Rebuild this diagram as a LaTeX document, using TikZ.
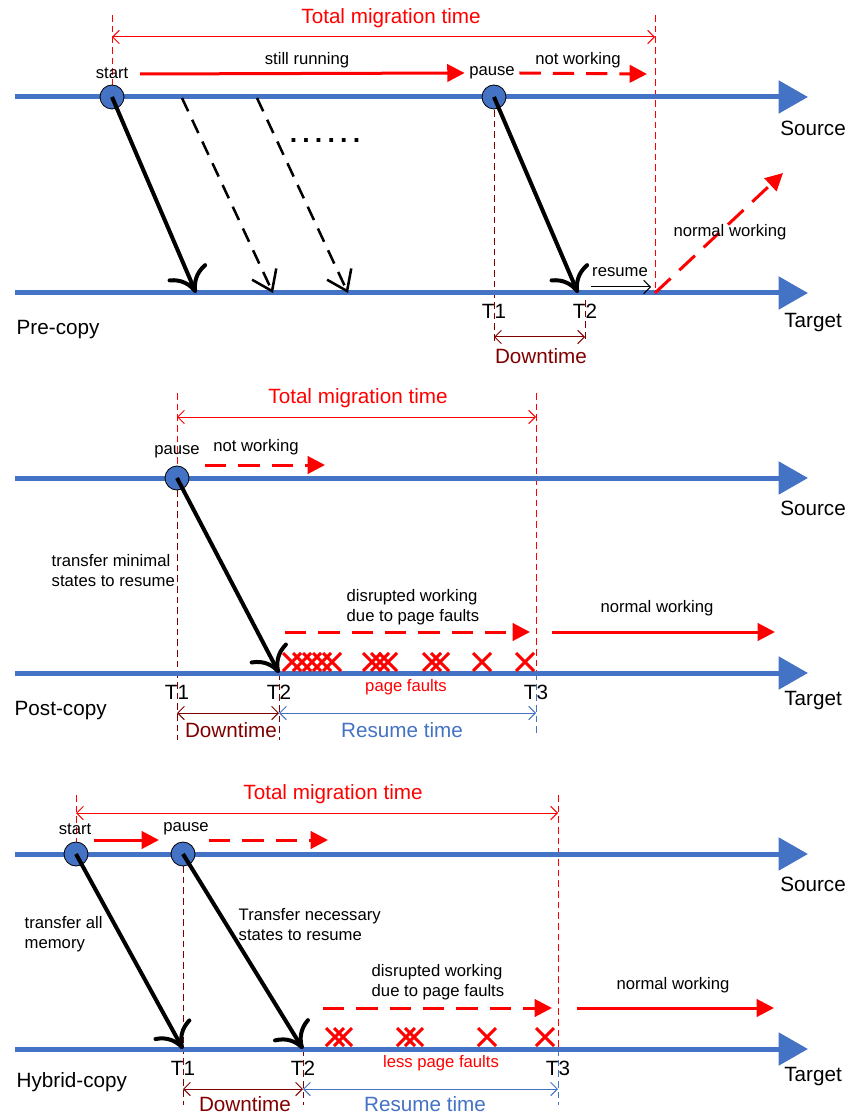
\documentclass[tikz,border=0pt]{standalone}
\usepackage{fontspec}
\setmainfont{Liberation Sans}
\usetikzlibrary{arrows.meta}
\definecolor{lineblue}{RGB}{68,114,196}
\definecolor{downred}{RGB}{128,0,0}
\newcommand{\axisfont}{\fontsize{15.5}{18}\selectfont}
\newcommand{\notefont}{\fontsize{12.5}{15}\selectfont}

\begin{document}
\begin{tikzpicture}[x=0.75pt,y=-0.75pt,
  timeline/.style={draw=lineblue,line width=3.75pt,-{Triangle[length=22pt,width=24pt]}},
  vm/.style={circle,draw=black,line width=0.6pt,fill=lineblue,minimum size=18pt,inner sep=0pt},
  transfer/.style={line width=3pt,-{Computer Modern Rightarrow[length=18pt,width=32pt]}},
  iterate/.style={line width=1.9pt,dash pattern=on 11pt off 7pt,-{Straight Barb[length=14pt,width=20pt]}},
  run/.style={red,line width=2.25pt,-{Triangle[length=13pt,width=13pt]}},
  halt/.style={run,dash pattern=on 16pt off 9pt},
  guide/.style={red,line width=0.75pt,dash pattern=on 5pt off 3pt},
  span/.style={line width=0.75pt,{Straight Barb[length=5pt,width=10pt]}-{Straight Barb[length=5pt,width=10pt]}},
  fault/.style={red,line width=2.25pt},
  big/.style={font=\axisfont},
  small/.style={font=\notefont}]
\useasboundingbox (0,0) rectangle (852,1119);

% ---------------- pre-copy
\draw[guide] (112,15) -- (112,97);
\draw[guide] (655,15) -- (655,293);
\draw[guide,downred] (494,110) -- (494,341);
\draw[guide,downred] (585,300) -- (585,341);
\draw[timeline] (15,97) -- (808,97);
\draw[timeline] (15,293) -- (808,293);
\node[vm] (s1) at (112,97) {};
\node[vm] (p1) at (494,97) {};
\coordinate (a1) at (196,293);
\coordinate (b1) at (578,293);
\draw[transfer] (s1.center) -- (a1);
\draw[transfer] (p1.center) -- (b1);
\draw[iterate] (182,98) -- (273,293);
\draw[iterate] (257,98) -- (348,293);
\node[font=\bfseries\fontsize{20}{20}\selectfont] (dots) at (325,141) {.\kern3.9pt.\kern3.9pt.\kern3.9pt.\kern3.9pt.\kern3.9pt.};

\node[big,red] (tot1) at (391,18) {Total migration time};
\draw[span,red] (112,37) -- (655,37);
\node[small] (st1) at (112,73) {start};
\node[small] (pa1) at (492,73) {pause};
\draw[run] (140,74) -- (pa1.west);
\draw[halt] (pa1.east) -- (647,74);
\node[small] at (307,60) {still running};
\node[small] at (578,60) {not working};
\node[small] (res1) at (620,272) {resume};
\draw[line width=0.75pt,-{Straight Barb[length=5pt,width=10pt]}] (591,287) -- (651,287);
\draw[halt] (655,293) -- (783,173);
\node[small] at (730,232) {normal working};
\node[big] at (494,311) {T1};
\node[big] at (585,311) {T2};
\draw[span,downred] (494,337) -- (585,337);
\node[big,downred] at (541,356) {Downtime};
\node[big] at (813,128) {Source};
\node[big] at (813,323) {Target};
\node[big,anchor=west] at (12,330) {Pre-copy};

% ---------------- post-copy
\draw[guide] (177,393) -- (177,478);
\draw[guide,downred] (177,490) -- (177,740);
\draw[guide,downred] (279,673) -- (279,740);
\draw[guide] (536,393) -- (536,673);
\draw[guide,lineblue] (536,673) -- (536,735);
\draw[timeline] (15,478) -- (808,478);
\draw[timeline] (15,673) -- (808,673);
\node[vm] (p2) at (177,478) {};
\coordinate (b2) at (279,673);
\draw[transfer] (p2.center) -- (b2);

\node[big,red] at (358,398) {Total migration time};
\draw[span,red] (177,417) -- (536,417);
\node[small] at (177,452) {pause};
\draw[halt] (205,465) -- (325,465);
\node[small] at (256,447) {not working};
\node[small,align=left,anchor=west] at (47,571) {transfer minimal\\states to resume};
\node[small,align=left,anchor=west] at (342,607) {disrupted working\\due to page faults};
\draw[halt] (285,632) -- (530,632);
\draw[run] (552,632) -- (775,632);
\node[small] at (657,608) {normal working};
\foreach \x in {292,302,312,322,332,372,380,388,432,440,482,525}
  \draw[fault] ({\x-9},653) -- ({\x+9},671) ({\x-9},671) -- ({\x+9},653);
\node[small,red] at (406,687) {page faults};
\node[big] at (177,692) {T1};
\node[big] at (279,692) {T2};
\node[big] at (536,692) {T3};
\draw[span,downred] (177,713) -- (279,713);
\draw[span,lineblue] (279,713) -- (536,713);
\node[big,downred] at (231,730) {Downtime};
\node[big,lineblue] at (402,730) {Resume time};
\node[big] at (813,508) {Source};
\node[big] at (813,701) {Target};
\node[big,anchor=west] at (10,711) {Post-copy};

% ---------------- hybrid-copy
\draw[guide] (76,795) -- (76,854);
\draw[guide] (558,795) -- (558,1049);
\draw[guide,lineblue] (558,1049) -- (558,1105);
\draw[guide,downred] (183,866) -- (183,1105);
\draw[guide,downred] (303,1049) -- (303,1105);
\draw[timeline] (15,854) -- (808,854);
\draw[timeline] (15,1049) -- (808,1049);
\node[vm] (s3) at (76,854) {};
\node[vm] (p3) at (183,854) {};
\coordinate (a3) at (183,1049);
\coordinate (b3) at (303,1049);
\draw[transfer] (s3.center) -- (a3);
\draw[transfer] (p3.center) -- (b3);

\node[big,red] at (333,794) {Total migration time};
\draw[span,red] (76,813) -- (558,813);
\node[small] at (75,829) {start};
\node[small] at (186,829) {pause};
\draw[run] (94,840) -- (159,840);
\draw[halt] (209,840) -- (328,840);
\node[small,align=left,anchor=west] at (20,934) {transfer all\\memory};
\node[small,align=left,anchor=west] at (234,925) {Transfer necessary\\states to resume};
\node[small,align=left,anchor=west] at (367,982) {disrupted working\\due to page faults};
\draw[halt] (323,1008) -- (552,1008);
\draw[run] (577,1008) -- (774,1008);
\node[small] at (673,985) {normal working};
\foreach \x in {335,343,406,414,487,545}
  \draw[fault] ({\x-9},1028) -- ({\x+9},1046) ({\x-9},1046) -- ({\x+9},1028);
\node[small,red] at (441,1063) {less page faults};
\node[big] at (183,1068) {T1};
\node[big] at (303,1068) {T2};
\node[big] at (558,1068) {T3};
\draw[span,downred] (183,1089) -- (303,1089);
\draw[span,lineblue] (303,1089) -- (558,1089);
\node[big,downred] at (245,1104) {Downtime};
\node[big,lineblue] at (425,1104) {Resume time};
\node[big] at (813,884) {Source};
\node[big] at (813,1077) {Target};
\node[big,anchor=west] at (12,1082) {Hybrid-copy};
\end{tikzpicture}
\end{document}
